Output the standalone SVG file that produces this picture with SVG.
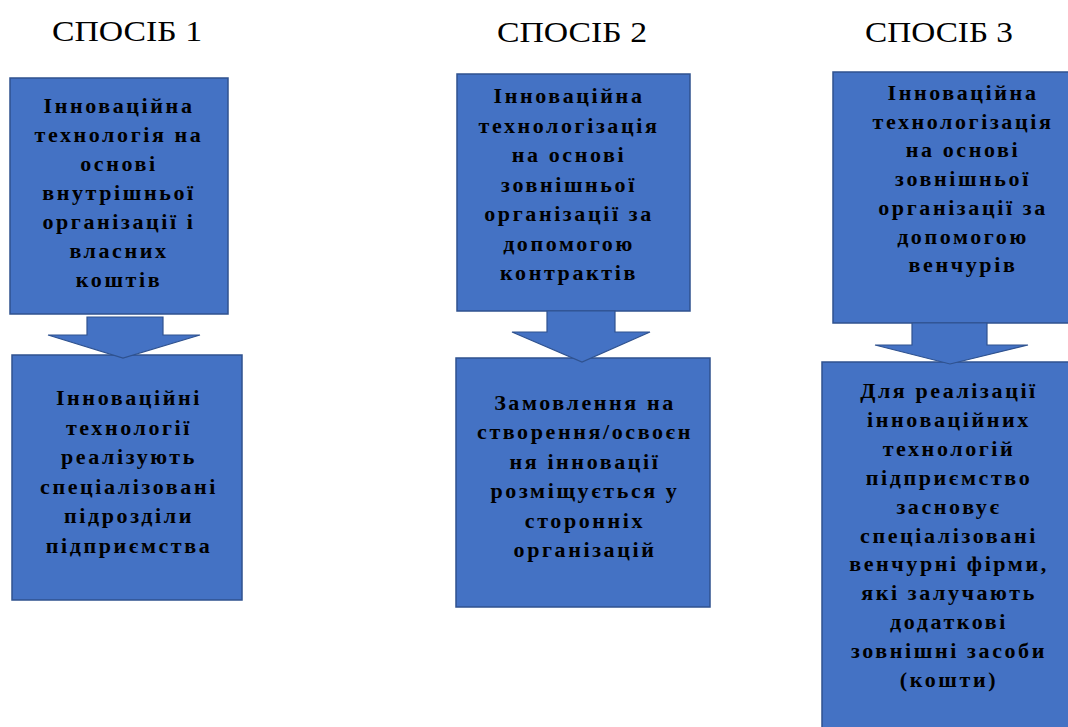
<svg xmlns="http://www.w3.org/2000/svg" width="1068" height="727" viewBox="0 0 1068 727">
<style>
.box{fill:#4472C4;stroke:#2F528F;stroke-width:1.5}
.arr{fill:#4472C4;stroke:#2F528F;stroke-width:1.2}
.t{font-family:"Liberation Serif","Times New Roman",serif;font-weight:bold;font-size:22px;fill:#000;text-anchor:middle;letter-spacing:2.6px}
.h{font-family:"Liberation Serif","Times New Roman",serif;font-size:30px;fill:#000}
</style>
<rect width="1068" height="727" fill="#fff"/>
<g id="titles">
<text class="h" x="52" y="41" textLength="150" lengthAdjust="spacingAndGlyphs">СПОСІБ 1</text>
<text class="h" x="497" y="42" textLength="150" lengthAdjust="spacingAndGlyphs">СПОСІБ 2</text>
<text class="h" x="865" y="42" textLength="148" lengthAdjust="spacingAndGlyphs">СПОСІБ 3</text>
</g>
<g id="node1">
<rect class="box" x="10" y="78" width="218" height="236"/>
<text class="t" y="113"><tspan x="119">Інноваційна</tspan><tspan x="119" dy="29">технологія на</tspan><tspan x="119" dy="29">основі</tspan><tspan x="119" dy="29">внутрішньої</tspan><tspan x="119" dy="29">організації і</tspan><tspan x="119" dy="29">власних</tspan><tspan x="119" dy="29">коштів</tspan></text>
</g>
<g id="node2">
<rect class="box" x="12" y="355" width="230" height="245"/>
<text class="t" y="405"><tspan x="129">Інноваційні</tspan><tspan x="129" dy="29.6">технології</tspan><tspan x="129" dy="29.6">реалізують</tspan><tspan x="129" dy="29.6">спеціалізовані</tspan><tspan x="129" dy="29.6">підрозділи</tspan><tspan x="129" dy="29.6">підприємства</tspan></text>
</g>
<g id="node3">
<rect class="box" x="457" y="74" width="233" height="237"/>
<text class="t" y="103"><tspan x="569">Інноваційна</tspan><tspan x="569" dy="29.5">технологізація</tspan><tspan x="569" dy="29.5">на основі</tspan><tspan x="569" dy="29.5">зовнішньої</tspan><tspan x="569" dy="29.5">організації за</tspan><tspan x="569" dy="29.5">допомогою</tspan><tspan x="569" dy="29.5">контрактів</tspan></text>
</g>
<g id="node4">
<rect class="box" x="456" y="358" width="254" height="249"/>
<text class="t" y="410"><tspan x="585">Замовлення на</tspan><tspan x="585" dy="29.4">створення/освоєн</tspan><tspan x="585" dy="29.4">ня інновації</tspan><tspan x="585" dy="29.4">розміщується у</tspan><tspan x="585" dy="29.4">сторонніх</tspan><tspan x="585" dy="29.4">організацій</tspan></text>
</g>
<g id="node5">
<rect class="box" x="833" y="72" width="256" height="251"/>
<text class="t" y="100"><tspan x="963">Інноваційна</tspan><tspan x="963" dy="28.7">технологізація</tspan><tspan x="963" dy="28.7">на основі</tspan><tspan x="963" dy="28.7">зовнішньої</tspan><tspan x="963" dy="28.7">організації за</tspan><tspan x="963" dy="28.7">допомогою</tspan><tspan x="963" dy="28.7">венчурів</tspan></text>
</g>
<g id="node6">
<rect class="box" x="822" y="362" width="250" height="380"/>
<text class="t" y="398"><tspan x="949">Для реалізації</tspan><tspan x="949" dy="28.9">інноваційних</tspan><tspan x="949" dy="28.9">технологій</tspan><tspan x="949" dy="28.9">підприємство</tspan><tspan x="949" dy="28.9">засновує</tspan><tspan x="949" dy="28.9">спеціалізовані</tspan><tspan x="949" dy="28.9">венчурні фірми,</tspan><tspan x="949" dy="28.9">які залучають</tspan><tspan x="949" dy="28.9">додаткові</tspan><tspan x="949" dy="28.9">зовнішні засоби</tspan><tspan x="949" dy="28.9">(кошти)</tspan></text>
</g>
<g id="connectors">
<path class="arr" d="M87,317 H163 V335 H200 L123,358 L48,335 H87 Z"/>
<path class="arr" d="M547,311 H615 V332 H650 L582,362 L512,332 H547 Z"/>
<path class="arr" d="M912,323 H987 V345 H1028 L950,364 L875,345 H912 Z"/>
</g>
</svg>
